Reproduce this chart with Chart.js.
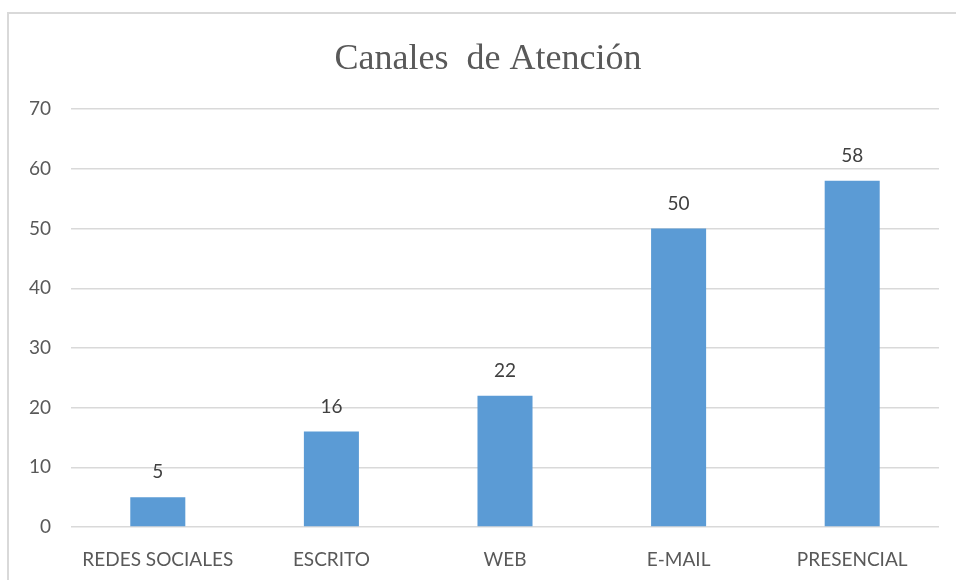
<!DOCTYPE html>
<html>
<head>
<meta charset="utf-8">
<script src="https://cdn.jsdelivr.net/npm/chart.js@4"></script>
<style>
  html, body { margin: 0; padding: 0; background: #fff; }
  #box {
    position: absolute; left: 7px; top: 12px; width: 949px; height: 568px;
    border-left: 2px solid #d9d9d9; border-top: 2px solid #d9d9d9;
  }
  #chart { display: block; }
</style>
</head>
<body>
<div id="box"><canvas id="chart" width="947" height="566"></canvas></div>
<script>
const categories = ["REDES SOCIALES", "ESCRITO", "WEB", "E-MAIL", "PRESENCIAL"];
const values = [5, 16, 22, 50, 58];
const titleText = "Canales  de Atención";

const sans = "Lato, 'Liberation Sans', Arial, sans-serif";

// valores encima de cada barra
const barValues = {
  id: "barValues",
  afterDatasetsDraw(chart) {
    const ctx = chart.ctx;
    const meta = chart.getDatasetMeta(0);
    ctx.save();
    ctx.font = "19px " + sans;
    ctx.fillStyle = "#404040";
    ctx.textAlign = "center";
    ctx.textBaseline = "middle";
    meta.data.forEach((bar, i) => {
      ctx.fillText(String(values[i]), bar.x, bar.y - 25);
    });
    ctx.restore();
  },
};

new Chart(document.getElementById("chart"), {
  type: "bar",
  data: {
    labels: categories,
    datasets: [
      {
        label: "Canales",
        data: values,
        backgroundColor: "#5b9bd5",
        barPercentage: 0.317,
        categoryPercentage: 1,
      },
    ],
  },
  options: {
    responsive: false,
    animation: false,
    layout: { padding: { top: 7, left: 28, right: 17, bottom: 0 } },
    plugins: {
      legend: { display: false },
      tooltip: { enabled: false },
      title: {
        display: true,
        text: titleText,
        color: "#595959",
        font: { family: "'Liberation Serif', 'Times New Roman', serif", size: 36, weight: "normal" },
        padding: { top: 17, bottom: 28 },
      },
    },
    scales: {
      x: {
        grid: { display: false, drawTicks: false },
        border: { display: false },
        ticks: {
          color: "#595959",
          padding: 21,
          maxRotation: 0,
          font: { family: sans, size: 19 },
        },
        afterFit: (scale) => { scale.height = 53; },
      },
      y: {
        min: 0,
        max: 70,
        border: { display: false },
        grid: { color: "#d9d9d9", lineWidth: 1.5, drawTicks: false },
        ticks: {
          stepSize: 10,
          color: "#595959",
          mirror: true,
          crossAlign: "far",
          padding: -42,
          font: { family: sans, size: 19 },
        },
        afterFit: (scale) => { scale.width = 34; },
      },
    },
  },
  plugins: [barValues],
});
</script>
</body>
</html>
